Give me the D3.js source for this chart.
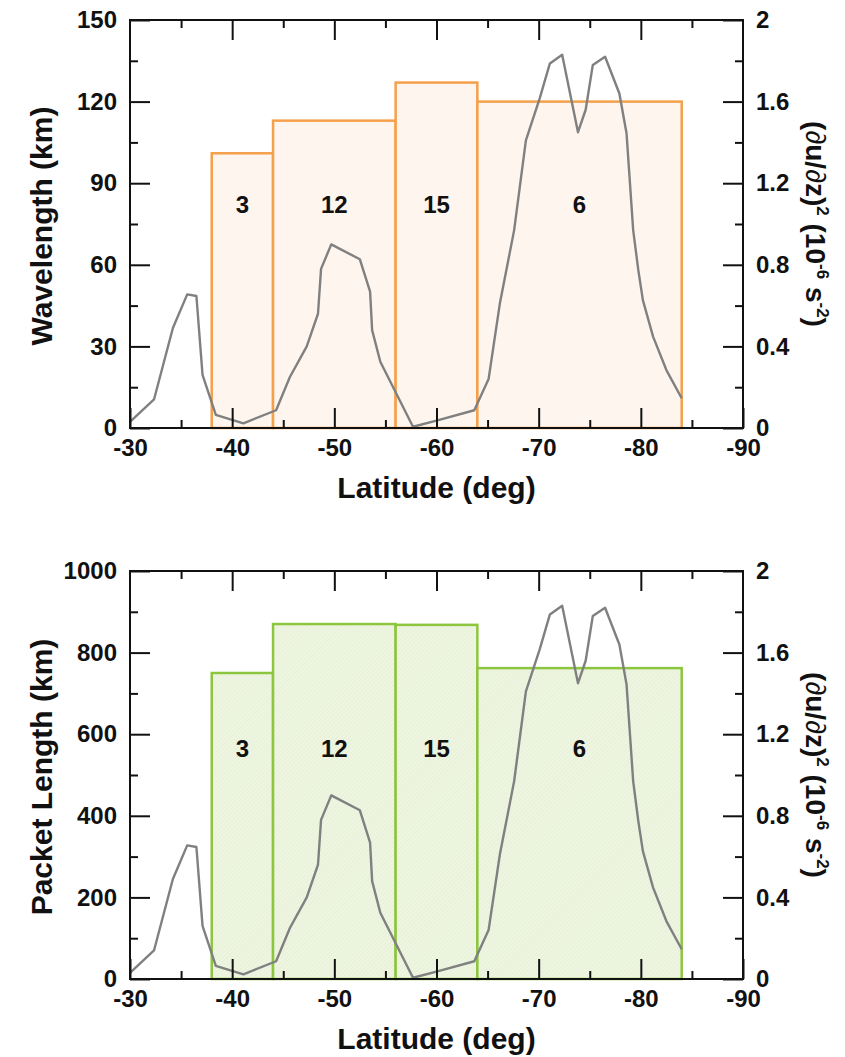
<!DOCTYPE html>
<html>
<head>
<meta charset="utf-8">
<script src="https://cdn.jsdelivr.net/npm/d3@7"></script>
<style>
  html, body { margin: 0; padding: 0; background: #fff; }
  svg { display: block; }
  text { font-family: "Liberation Sans", Arial, Helvetica, sans-serif; font-weight: bold; fill: #111; }
</style>
</head>
<body>
<svg id="chart" width="845" height="1057"></svg>
<script>
// ---- data ----
const binStart = [-38, -44, -56, -64];
const binEnd = [-44, -56, -64, -84];
const binCounts = ["3", "12", "15", "6"];
const wavelength = [101, 113, 127, 120];
const packetLength = [750, 870, 868, 762];

const shearLat = [-30, -32.35, -34.2, -35.6, -36.5, -37.1, -38.4, -41.1, -44.3, -45.65, -47.3, -48.4, -48.7, -49.7,
  -52.5, -53.5, -53.7, -54.5, -57.7, -60, -63.7, -65.1, -66.2, -67.6, -68.75, -70.1, -71.1, -72.3,
  -73.85, -74.6, -75.3, -76.5, -77.9, -78.6, -79.25, -79.75, -80.2, -81.2, -82.5, -84];
const shearVal = [0.03, 0.14, 0.49, 0.655, 0.647, 0.26, 0.064, 0.023, 0.087, 0.25, 0.40, 0.56, 0.78, 0.90,
  0.827, 0.668, 0.48, 0.325, 0.006, 0.036, 0.087, 0.24, 0.61, 0.97, 1.41, 1.616, 1.787, 1.83,
  1.45, 1.56, 1.78, 1.82, 1.64, 1.445, 0.97, 0.775, 0.627, 0.448, 0.284, 0.146];

const latMajorTicks = [-30, -40, -50, -60, -70, -80, -90];
const latMinorTicks = [-35, -45, -55, -65, -75, -85];
const waveMajorTicks = [0, 30, 60, 90, 120, 150];
const waveMinorTicks = [15, 45, 75, 105, 135];
const packetMajorTicks = [0, 200, 400, 600, 800, 1000];
const packetMinorTicks = [100, 300, 500, 700, 900];
const shearMajorTicks = [0, 0.4, 0.8, 1.2, 1.6, 2];
const shearMinorTicks = [0.2, 0.6, 1.0, 1.4, 1.8];

const svg = d3.select("#chart");
const defs = svg.append("defs");
const pat = defs.append("pattern").attr("id", "hatch").attr("width", 3).attr("height", 3)
  .attr("patternUnits", "userSpaceOnUse").attr("patternTransform", "rotate(45)");
pat.append("rect").attr("width", 3).attr("height", 3).attr("fill", "#eef5e1");
pat.append("line").attr("x1", 0).attr("y1", 0).attr("x2", 0).attr("y2", 3)
  .attr("stroke", "#e3edd3").attr("stroke-width", 1.2);

const X0 = 130, X1 = 743;
const x = d3.scaleLinear().domain([-30, -90]).range([X0, X1]);

function fmtNum(d) { return String(d); }

const TICKFS = 24;

function panel(opts) {
  const { top, bottom, yMax, values, majorTicks, minorTicks, yTitle, stroke, fill, labelVal } = opts;
  const g = svg.append("g");
  const y = d3.scaleLinear().domain([0, yMax]).range([bottom, top]);
  const y2 = d3.scaleLinear().domain([0, 2]).range([bottom, top]);

  // bars
  g.selectAll("rect.bar").data(values).enter().append("rect")
    .attr("class", "bar")
    .attr("x", (d, i) => x(binStart[i]))
    .attr("width", (d, i) => x(binEnd[i]) - x(binStart[i]))
    .attr("y", d => y(d))
    .attr("height", d => bottom - y(d))
    .attr("fill", fill)
    .attr("stroke", stroke)
    .attr("stroke-width", 2.5);

  // count labels
  g.selectAll("text.cnt").data(binCounts).enter().append("text")
    .attr("class", "cnt")
    .attr("x", (d, i) => (x(binStart[i]) + x(binEnd[i])) / 2)
    .attr("y", y(labelVal))
    .attr("text-anchor", "middle")
    .attr("font-size", 24)
    .text(d => d);

  // shear line
  const line = d3.line().x(d => x(d[0])).y(d => y2(d[1]));
  g.append("path")
    .datum(shearLat.map((l, i) => [l, shearVal[i]]))
    .attr("d", line)
    .attr("fill", "none")
    .attr("stroke", "#808080")
    .attr("stroke-width", 2.4)
    .attr("stroke-linejoin", "round");

  // axes
  const styleAxis = (sel) => {
    sel.select(".domain").remove();
    sel.selectAll(".tick line").attr("stroke", "#111").attr("stroke-width", 2);
    sel.selectAll(".tick text").attr("font-size", TICKFS).attr("font-family", "Liberation Sans, Arial, sans-serif").attr("font-weight", "bold").attr("fill", "#111");
  };
  // bottom
  g.append("g").attr("transform", `translate(0,${bottom})`)
    .call(d3.axisBottom(x).tickValues(latMajorTicks).tickSize(-20).tickPadding(11).tickFormat(fmtNum))
    .call(styleAxis);
  g.append("g").attr("transform", `translate(0,${bottom})`)
    .call(d3.axisBottom(x).tickValues(latMinorTicks).tickSize(-8).tickFormat(""))
    .call(styleAxis);
  // top
  g.append("g").attr("transform", `translate(0,${top})`)
    .call(d3.axisTop(x).tickValues(latMajorTicks.slice(1, -1)).tickSize(-20).tickFormat(""))
    .call(styleAxis);
  g.append("g").attr("transform", `translate(0,${top})`)
    .call(d3.axisTop(x).tickValues(latMinorTicks).tickSize(-8).tickFormat(""))
    .call(styleAxis);
  // left
  g.append("g").attr("transform", `translate(${X0},0)`)
    .call(d3.axisLeft(y).tickValues(majorTicks).tickSize(-20).tickPadding(13).tickFormat(fmtNum))
    .call(styleAxis);
  g.append("g").attr("transform", `translate(${X0},0)`)
    .call(d3.axisLeft(y).tickValues(minorTicks).tickSize(-8).tickFormat(""))
    .call(styleAxis);
  // right
  g.append("g").attr("transform", `translate(${X1},0)`)
    .call(d3.axisRight(y2).tickValues(shearMajorTicks).tickSize(-20).tickPadding(13).tickFormat(fmtNum))
    .call(styleAxis);
  g.append("g").attr("transform", `translate(${X1},0)`)
    .call(d3.axisRight(y2).tickValues(shearMinorTicks).tickSize(-8).tickFormat(""))
    .call(styleAxis);

  // frame
  g.append("rect").attr("x", X0).attr("y", top).attr("width", X1 - X0).attr("height", bottom - top)
    .attr("fill", "none").attr("stroke", "#111").attr("stroke-width", 2);

  // x title
  g.append("text").attr("x", (X0 + X1) / 2).attr("y", bottom + 70)
    .attr("text-anchor", "middle").attr("font-size", 30).text("Latitude (deg)");
  // left title
  g.append("text").attr("transform", `translate(52,${(top + bottom) / 2 + 2}) rotate(-90)`)
    .attr("text-anchor", "middle").attr("font-size", 30).text(yTitle);
  // right title
  const rt = g.append("text").attr("transform", `translate(806,${(top + bottom) / 2}) rotate(90)`)
    .attr("text-anchor", "middle").attr("font-size", 28);
  rt.append("tspan").text("(");
  rt.append("tspan").attr("font-weight", "normal").text("\u2202");
  rt.append("tspan").text("u/");
  rt.append("tspan").attr("font-weight", "normal").text("\u2202");
  rt.append("tspan").text("z)");
  rt.append("tspan").attr("font-size", 17).attr("dy", -11).text("2");
  rt.append("tspan").attr("dy", 11).text(" (10");
  rt.append("tspan").attr("font-size", 17).attr("dy", -11).text("-6");
  rt.append("tspan").attr("dy", 11).text(" s");
  rt.append("tspan").attr("font-size", 17).attr("dy", -11).text("-2");
  rt.append("tspan").attr("dy", 11).text(")");
}

panel({ top: 20, bottom: 428, yMax: 150, values: wavelength, majorTicks: waveMajorTicks, minorTicks: waveMinorTicks,
  yTitle: "Wavelength (km)", stroke: "#f5a04a", fill: "#fef5ee", labelVal: 79 });
panel({ top: 571, bottom: 979, yMax: 1000, values: packetLength, majorTicks: packetMajorTicks, minorTicks: packetMinorTicks,
  yTitle: "Packet Length (km)", stroke: "#8cc63f", fill: "url(#hatch)", labelVal: 544 });
</script>
</body>
</html>
